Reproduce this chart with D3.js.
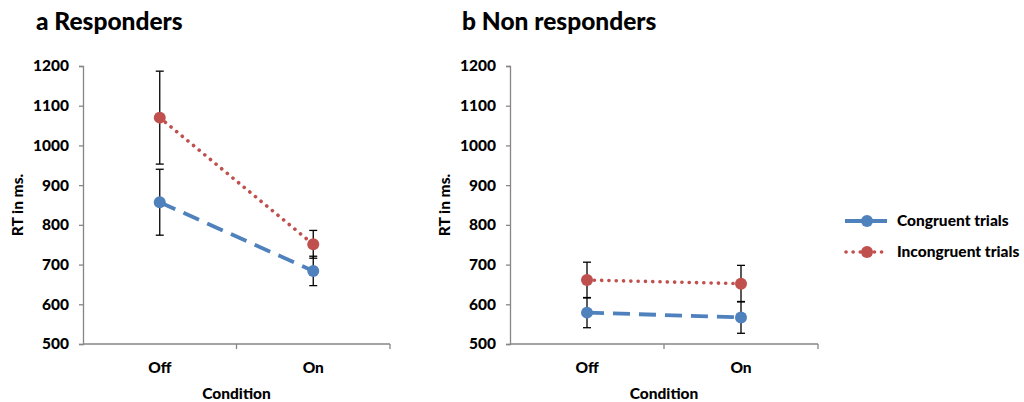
<!DOCTYPE html>
<html>
<head>
<meta charset="utf-8">
<script src="https://cdn.jsdelivr.net/npm/d3@7"></script>
<style>
  body { margin: 0; background: #fff; }
  svg { font-family: Lato, "Open Sans", sans-serif; font-weight: 900; }
</style>
</head>
<body>
<svg id="chart" width="1024" height="402"></svg>
<script>
// data
var conditions = ["Off", "On"];
var yTicks = [500, 600, 700, 800, 900, 1000, 1100, 1200];
var seriesNames = ["Congruent trials", "Incongruent trials"];

var respCongruent = [857, 684];
var respCongruentErr = [83, 37];
var respIncongruent = [1070, 751];
var respIncongruentErr = [117, 35];

var nonCongruent = [579, 567];
var nonCongruentErr = [38, 40];
var nonIncongruent = [661, 652];
var nonIncongruentErr = [45, 46];

var blue = "#4f81bd", red = "#c0504d", axisGrey = "#868686";

var svg = d3.select("#chart");

function drawPanel(opts) {
    var x = d3.scaleBand()
        .domain(conditions)
        .range([opts.left, opts.right])

    var y = d3.scaleLinear()
        .domain([500, 1200])
        .range([344, 66])

    var g = svg.append("g");

    // title
    g.append("text")
        .attr("x", opts.titleX)
        .attr("y", 30)
        .style("font-size", "24.5px")
        .text(opts.title);

    // y axis
    var yAxis = g.append("g")
        .attr("transform", "translate(" + opts.left + ",0)")
        .call(d3.axisLeft(y).tickValues(yTicks).tickSize(4).tickPadding(10).tickFormat(d3.format("d")));
    yAxis.select(".domain").attr("stroke", axisGrey).attr("stroke-width", 1.3);
    yAxis.selectAll(".tick line").attr("stroke", axisGrey).attr("stroke-width", 1.3);
    yAxis.selectAll("text").style("font-size", "15.5px").style("font-family", "Lato, sans-serif")
        .attr("font-weight", "900").attr("fill", "#000");

    // x axis (line with ticks at band edges)
    var xg = g.append("g").attr("transform", "translate(0,344)");
    xg.append("line")
        .attr("x1", opts.left).attr("x2", opts.right)
        .attr("stroke", axisGrey).attr("stroke-width", 1.3);
    var edges = [opts.left + x.bandwidth(), opts.right];
    xg.selectAll(".edge").data(edges).enter().append("line")
        .attr("x1", function (d) { return d; }).attr("x2", function (d) { return d; })
        .attr("y1", 0).attr("y2", 5)
        .attr("stroke", axisGrey).attr("stroke-width", 1.3);
    xg.selectAll(".lab").data(conditions).enter().append("text")
        .attr("x", function (d) { return x(d) + x.bandwidth() / 2; })
        .attr("y", 29)
        .attr("text-anchor", "middle")
        .style("font-size", "15.5px")
        .text(function (d) { return d; });

    g.append("text")
        .attr("x", (opts.left + opts.right) / 2)
        .attr("y", 399)
        .attr("text-anchor", "middle")
        .style("font-size", "15.5px")
        .text("Condition");

    g.append("text")
        .attr("transform", "translate(" + opts.yLabelX + ",205) rotate(-90)")
        .attr("text-anchor", "middle")
        .style("font-size", "15.5px")
        .text("RT in ms.");

    var cx = function (i) { return x(conditions[i]) + x.bandwidth() / 2; };

    var series = [
        { vals: opts.cong, err: opts.congErr, color: blue, dash: "17,9", width: 3.8, cap: "butt" },
        { vals: opts.incong, err: opts.incongErr, color: red, dash: "0.1,7.2", width: 3.6, cap: "round" }
    ];

    series.forEach(function (s) {
        var line = d3.line()
            .x(function (d, i) { return cx(i); })
            .y(function (d) { return y(d); });
        g.append("path")
            .datum(s.vals)
            .attr("d", line)
            .attr("fill", "none")
            .attr("stroke", s.color)
            .attr("stroke-width", s.width)
            .attr("stroke-dasharray", s.dash)
            .attr("stroke-linecap", s.cap);
    });

    // error bars
    series.forEach(function (s) {
        s.vals.forEach(function (v, i) {
            var top = y(v + s.err[i]), bot = y(v - s.err[i]), xc = cx(i);
            g.append("line").attr("x1", xc).attr("x2", xc).attr("y1", top).attr("y2", bot)
                .attr("stroke", "#000").attr("stroke-width", 1.3);
            [top, bot].forEach(function (yy) {
                g.append("line").attr("x1", xc - 4).attr("x2", xc + 4).attr("y1", yy).attr("y2", yy)
                    .attr("stroke", "#000").attr("stroke-width", 1.3);
            });
        });
    });

    // markers
    series.forEach(function (s) {
        g.selectAll(null).data(s.vals).enter().append("circle")
            .attr("cx", function (d, i) { return cx(i); })
            .attr("cy", function (d) { return y(d); })
            .attr("r", 6)
            .attr("fill", s.color);
    });
}

drawPanel({
    title: "a Responders", titleX: 36, left: 83, right: 390, yLabelX: 23,
    cong: respCongruent, congErr: respCongruentErr,
    incong: respIncongruent, incongErr: respIncongruentErr
});

drawPanel({
    title: "b Non responders", titleX: 462, left: 510, right: 818, yLabelX: 450,
    cong: nonCongruent, congErr: nonCongruentErr,
    incong: nonIncongruent, incongErr: nonIncongruentErr
});

// legend
var legend = svg.append("g");
var legendItems = [
    { name: seriesNames[0], color: blue, y: 221 },
    { name: seriesNames[1], color: red, y: 252 }
];
legendItems.forEach(function (d, i) {
    if (i === 0) {
        legend.append("line").attr("x1", 845).attr("x2", 887).attr("y1", d.y).attr("y2", d.y)
            .attr("stroke", d.color).attr("stroke-width", 3.8);
    } else {
        legend.append("line").attr("x1", 846).attr("x2", 888).attr("y1", d.y).attr("y2", d.y)
            .attr("stroke", d.color).attr("stroke-width", 3.6)
            .attr("stroke-dasharray", "0.1,7").attr("stroke-linecap", "round");
    }
    legend.append("circle").attr("cx", 867).attr("cy", d.y).attr("r", 6).attr("fill", d.color);
    legend.append("text").attr("x", 897).attr("y", d.y + 5)
        .style("font-size", "15.5px").text(d.name);
});
</script>
</body>
</html>
